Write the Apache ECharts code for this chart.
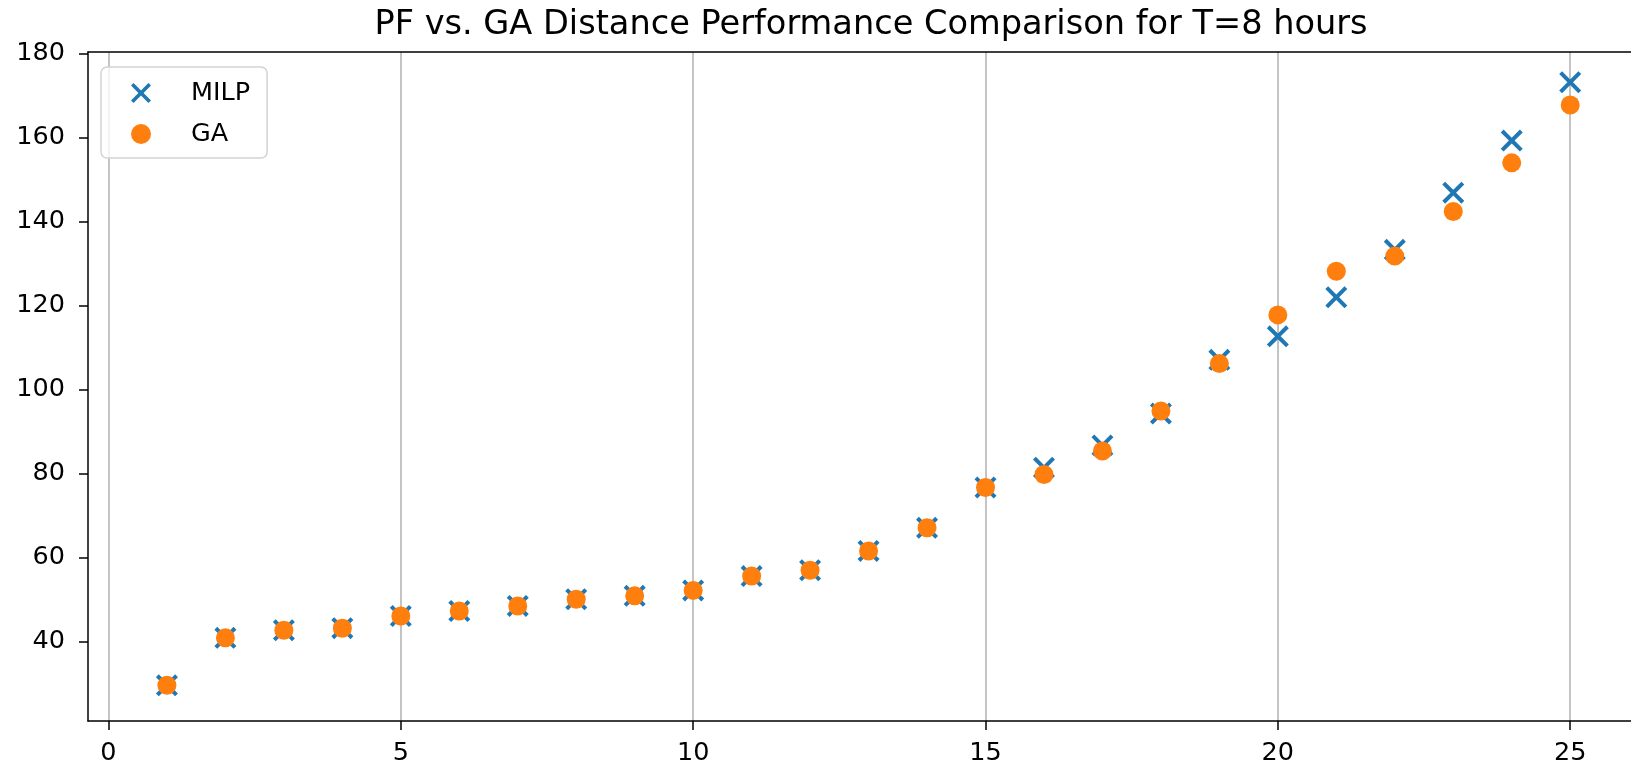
<!DOCTYPE html>
<html>
<head>
<meta charset="utf-8">
<script src="https://cdn.jsdelivr.net/npm/echarts@6/dist/echarts.min.js"></script>
<style>
  html, body { margin: 0; padding: 0; background: #fff; }
  #main { width: 1631px; height: 767px; }
</style>
</head>
<body>
<div id="main"></div>
<script>
var xs = [1, 2, 3, 4, 5, 6, 7, 8, 9, 10, 11, 12, 13, 14, 15, 16, 17, 18, 19, 20, 21, 22, 23, 24, 25];
var milp = [29.6, 40.9, 42.7, 43.2, 46.1, 47.3, 48.5, 50.1, 50.9, 52.2, 55.6, 57.0, 61.6, 67.1, 76.7,
            81.4, 86.7, 94.3, 107.1, 112.7, 122.0, 133.3, 146.9, 159.3, 173.2];
var ga = [29.6, 40.9, 42.7, 43.2, 46.1, 47.3, 48.5, 50.1, 50.9, 52.2, 55.6, 57.0, 61.6, 67.1, 76.7,
          79.8, 85.4, 94.9, 106.2, 117.8, 128.2, 131.8, 142.4, 154.0, 167.8];
var xTicks = [0, 5, 10, 15, 20, 25];
var yTicks = [40, 60, 80, 100, 120, 140, 160, 180];

var font = 'DejaVu Sans';
// matplotlib style 'x' marker
var xMark = 'path://M0,2.83 L2.83,0 L11,8.17 L19.17,0 L22,2.83 L13.83,11 L22,19.17 L19.17,22 L11,13.83 L2.83,22 L0,19.17 L8.17,11 Z';

function pairs(ys) {
  return xs.map(function (x, i) { return [x, ys[i]]; });
}

var chart = echarts.init(document.getElementById('main'));

var spine = { color: '#000', width: 1.5 };

var option = {
  animation: false,
  backgroundColor: '#fff',
  title: {
    text: 'PF vs. GA Distance Performance Comparison for T=8 hours',
    left: 866,
    textAlign: 'center',
    top: 3,
    textStyle: { fontFamily: font, fontSize: 33.6, fontWeight: 'normal', color: '#000' }
  },
  legend: {
    orient: 'vertical',
    left: 101,
    top: 67,
    padding: [13, 17, 11, 30],
    itemGap: 15,
    itemWidth: 20,
    itemHeight: 20,
    backgroundColor: 'rgba(255,255,255,0.8)',
    borderColor: '#d3d3d3',
    borderWidth: 1.5,
    borderRadius: 6,
    formatter: '{t|{name}}',
    textStyle: {
      rich: {
        t: { fontFamily: font, fontSize: 25.5, color: '#000', lineHeight: 30, padding: [0, 0, 0, 35] }
      }
    },
    data: ['MILP', 'GA']
  },
  // plot runs off the right edge, so no right spine
  grid: { left: 88, top: 52, width: 1543, height: 669, show: false },
  xAxis: [
    {
      type: 'value',
      min: -0.35,
      max: 26.04,
      axisLine: { onZero: false, lineStyle: spine },
      axisTick: { show: true, length: 9, lineStyle: spine, customValues: xTicks },
      axisLabel: { fontFamily: font, fontSize: 25.5, color: '#000', margin: 19, customValues: xTicks },
      splitLine: { show: true, lineStyle: { color: '#b0b0b0', width: 1.5 }, customValues: xTicks }
    },
    {
      // top spine
      type: 'value',
      position: 'top',
      min: -0.35,
      max: 26.04,
      axisLine: { show: true, onZero: false, lineStyle: spine },
      axisTick: { show: false },
      axisLabel: { show: false },
      splitLine: { show: false }
    }
  ],
  yAxis: {
    type: 'value',
    min: 21.1,
    max: 180.4,
    axisLine: { show: true, onZero: false, lineStyle: spine },
    axisTick: { show: true, length: 9, lineStyle: spine, customValues: yTicks },
    axisLabel: { fontFamily: font, fontSize: 25.5, color: '#000', margin: 23, customValues: yTicks },
    splitLine: { show: false }
  },
  series: [
    {
      name: 'MILP',
      type: 'scatter',
      symbol: xMark,
      symbolSize: 22,
      itemStyle: { color: '#1f77b4', opacity: 1 },
      data: pairs(milp)
    },
    {
      name: 'GA',
      type: 'scatter',
      symbol: 'circle',
      symbolSize: 19,
      itemStyle: { color: '#ff7f0e', opacity: 1 },
      data: pairs(ga)
    }
  ]
};

chart.setOption(option);
</script>
</body>
</html>
